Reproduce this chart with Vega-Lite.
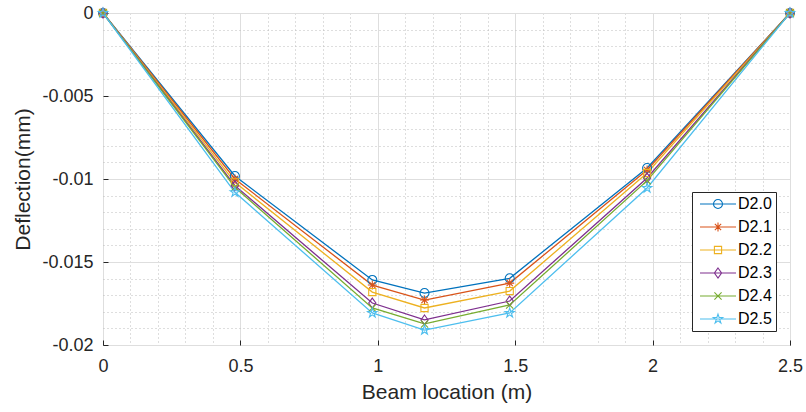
{
  "$schema": "https://vega.github.io/schema/vega-lite/v6.json",
  "width": 687,
  "height": 332,
  "autosize": {"type": "none"},
  "padding": {"left": 103, "top": 13, "right": 16, "bottom": 67},
  "background": "white",
  "config": {
    "view": {"stroke": "#262626", "strokeWidth": 1},
    "font": "Liberation Sans",
    "axis": {
      "labelFont": "Liberation Sans",
      "titleFont": "Liberation Sans",
      "labelFontSize": 18,
      "titleFontSize": 21,
      "titleFontWeight": "normal",
      "labelColor": "#262626",
      "titleColor": "#262626",
      "domain": false,
      "tickColor": "#262626",
      "tickSize": -5,
      "labelFlush": false,
      "labelOverlap": false
    },
    "legend": {
      "orient": "bottom-right",
      "offset": 14,
      "fillColor": "white",
      "strokeColor": "#262626",
      "padding": 4,
      "labelFont": "Liberation Sans",
      "labelFontSize": 16,
      "labelColor": "#000000",
      "symbolSize": 81,
      "symbolStrokeWidth": 1.1,
      "rowPadding": 7,
      "symbolOffset": 14,
      "labelOffset": 12
    }
  },
  "data": {
    "values": [
      {"series": "D2.0", "x": 0, "y": 0},
      {"series": "D2.0", "x": 0.48, "y": -0.00982},
      {"series": "D2.0", "x": 0.98, "y": -0.01608},
      {"series": "D2.0", "x": 1.17, "y": -0.01687},
      {"series": "D2.0", "x": 1.48, "y": -0.01598},
      {"series": "D2.0", "x": 1.98, "y": -0.00934},
      {"series": "D2.0", "x": 2.5, "y": 0},
      {"series": "D2.1", "x": 0, "y": 0},
      {"series": "D2.1", "x": 0.48, "y": -0.0100},
      {"series": "D2.1", "x": 0.98, "y": -0.01639},
      {"series": "D2.1", "x": 1.17, "y": -0.01729},
      {"series": "D2.1", "x": 1.48, "y": -0.01627},
      {"series": "D2.1", "x": 1.98, "y": -0.00946},
      {"series": "D2.1", "x": 2.5, "y": 0},
      {"series": "D2.2", "x": 0, "y": 0},
      {"series": "D2.2", "x": 0.48, "y": -0.0102},
      {"series": "D2.2", "x": 0.98, "y": -0.01681},
      {"series": "D2.2", "x": 1.17, "y": -0.01777},
      {"series": "D2.2", "x": 1.48, "y": -0.01675},
      {"series": "D2.2", "x": 1.98, "y": -0.00964},
      {"series": "D2.2", "x": 2.5, "y": 0},
      {"series": "D2.3", "x": 0, "y": 0},
      {"series": "D2.3", "x": 0.48, "y": -0.0104},
      {"series": "D2.3", "x": 0.98, "y": -0.01747},
      {"series": "D2.3", "x": 1.17, "y": -0.01849},
      {"series": "D2.3", "x": 1.48, "y": -0.01735},
      {"series": "D2.3", "x": 1.98, "y": -0.00994},
      {"series": "D2.3", "x": 2.5, "y": 0},
      {"series": "D2.4", "x": 0, "y": 0},
      {"series": "D2.4", "x": 0.48, "y": -0.0105},
      {"series": "D2.4", "x": 0.98, "y": -0.01777},
      {"series": "D2.4", "x": 1.17, "y": -0.01873},
      {"series": "D2.4", "x": 1.48, "y": -0.01759},
      {"series": "D2.4", "x": 1.98, "y": -0.0101},
      {"series": "D2.4", "x": 2.5, "y": 0},
      {"series": "D2.5", "x": 0, "y": 0},
      {"series": "D2.5", "x": 0.48, "y": -0.0108},
      {"series": "D2.5", "x": 0.98, "y": -0.01807},
      {"series": "D2.5", "x": 1.17, "y": -0.0191},
      {"series": "D2.5", "x": 1.48, "y": -0.01807},
      {"series": "D2.5", "x": 1.98, "y": -0.01054},
      {"series": "D2.5", "x": 2.5, "y": 0}
    ]
  },
  "encoding": {
    "x": {
      "field": "x",
      "type": "quantitative",
      "scale": {"domain": [0, 2.5], "nice": false, "zero": false},
      "axis": {
        "title": "Beam location (m)",
        "values": [0, 0.1, 0.2, 0.3, 0.4, 0.5, 0.6, 0.7, 0.8, 0.9, 1, 1.1, 1.2, 1.3, 1.4, 1.5, 1.6, 1.7, 1.8, 1.9, 2, 2.1, 2.2, 2.3, 2.4, 2.5],
        "labelExpr": "round(datum.value*10) % 5 == 0 ? format(datum.value, '') : ''",
        "labelPadding": 17,
        "titlePadding": 6,
        "gridDash": {"condition": {"test": "round(datum.value*10) % 5 == 0", "value": []}, "value": [1, 3]},
        "gridColor": {"condition": {"test": "round(datum.value*10) % 5 == 0", "value": "#dedede"}, "value": "#bdbdbd"},
        "tickOpacity": {"condition": {"test": "round(datum.value*10) % 5 == 0", "value": 1}, "value": 0}
      }
    },
    "y": {
      "field": "y",
      "type": "quantitative",
      "scale": {"domain": [-0.02, 0], "nice": false, "zero": false},
      "axis": {
        "title": "Deflection(mm)",
        "values": [0, -0.001, -0.002, -0.003, -0.004, -0.005, -0.006, -0.007, -0.008, -0.009, -0.01, -0.011, -0.012, -0.013, -0.014, -0.015, -0.016, -0.017, -0.018, -0.019, -0.02],
        "labelExpr": "round(datum.value*1000) % 5 == 0 ? (datum.value < 0 ? '-' : '') + format(abs(datum.value), '') : ''",
        "labelPadding": 15,
        "titlePadding": 8,
        "gridDash": {"condition": {"test": "round(datum.value*1000) % 5 == 0", "value": []}, "value": [1, 3]},
        "gridColor": {"condition": {"test": "round(datum.value*1000) % 5 == 0", "value": "#dedede"}, "value": "#bdbdbd"},
        "tickOpacity": {"condition": {"test": "round(datum.value*1000) % 5 == 0", "value": 1}, "value": 0}
      }
    }
  },
  "layer": [
    {
      "mark": {"type": "line", "strokeWidth": 1.3},
      "encoding": {
        "color": {
          "field": "series",
          "type": "nominal",
          "scale": {
            "domain": ["D2.0", "D2.1", "D2.2", "D2.3", "D2.4", "D2.5"],
            "range": ["#0072BD", "#D95319", "#EDB120", "#7E2F8E", "#77AC30", "#4DBEEE"]
          },
          "legend": null
        }
      }
    },
    {
      "mark": {"type": "point", "filled": false, "size": 81, "strokeWidth": 1.1, "opacity": 1},
      "encoding": {
        "color": {
          "field": "series",
          "type": "nominal",
          "scale": {
            "domain": ["D2.0", "D2.1", "D2.2", "D2.3", "D2.4", "D2.5"],
            "range": ["#0072BD", "#D95319", "#EDB120", "#7E2F8E", "#77AC30", "#4DBEEE"]
          },
          "legend": null
        },
        "shape": {
          "field": "series",
          "type": "nominal",
          "scale": {
            "domain": ["D2.0", "D2.1", "D2.2", "D2.3", "D2.4", "D2.5"],
            "range": [
              "M1,0A1,1,0,1,1,-1,0A1,1,0,1,1,1,0Z",
              "M-1,0L1,0M0,-1L0,1M-0.7,-0.7L0.7,0.7M-0.7,0.7L0.7,-0.7",
              "M-0.8,-0.8L0.8,-0.8L0.8,0.8L-0.8,0.8Z",
              "M0,-1.1L0.8,0L0,1.1L-0.8,0Z",
              "M-0.8,-0.8L0.8,0.8M-0.8,0.8L0.8,-0.8",
              "M0,-1.1L0.247,-0.34L1.046,-0.34L0.399,0.13L0.647,0.89L0,0.42L-0.647,0.89L-0.399,0.13L-1.046,-0.34L-0.247,-0.34Z"
            ]
          },
          "legend": null
        }
      }
    },
    {
      "transform": [{"filter": "false"}],
      "mark": {"type": "point", "filled": false, "size": 81, "strokeWidth": 1.1, "opacity": 1},
      "encoding": {
        "color": {
          "field": "series",
          "type": "nominal",
          "scale": {
            "domain": ["D2.0", "D2.1", "D2.2", "D2.3", "D2.4", "D2.5"],
            "range": ["#0072BD", "#D95319", "#EDB120", "#7E2F8E", "#77AC30", "#4DBEEE"]
          },
          "legend": {"title": null}
        },
        "shape": {
          "field": "series",
          "type": "nominal",
          "scale": {
            "domain": ["D2.0", "D2.1", "D2.2", "D2.3", "D2.4", "D2.5"],
            "range": [
              "M-4,0L4,0M1,0A1,1,0,1,1,-1,0A1,1,0,1,1,1,0Z",
              "M-4,0L4,0M-1,0L1,0M0,-1L0,1M-0.7,-0.7L0.7,0.7M-0.7,0.7L0.7,-0.7",
              "M-4,0L4,0M-0.8,-0.8L0.8,-0.8L0.8,0.8L-0.8,0.8Z",
              "M-4,0L4,0M0,-1.1L0.8,0L0,1.1L-0.8,0Z",
              "M-4,0L4,0M-0.8,-0.8L0.8,0.8M-0.8,0.8L0.8,-0.8",
              "M-4,0L4,0M0,-1.1L0.247,-0.34L1.046,-0.34L0.399,0.13L0.647,0.89L0,0.42L-0.647,0.89L-0.399,0.13L-1.046,-0.34L-0.247,-0.34Z"
            ]
          },
          "legend": {"title": null}
        }
      }
    }
  ],
  "resolve": {"scale": {"shape": "independent", "color": "independent"}}
}
